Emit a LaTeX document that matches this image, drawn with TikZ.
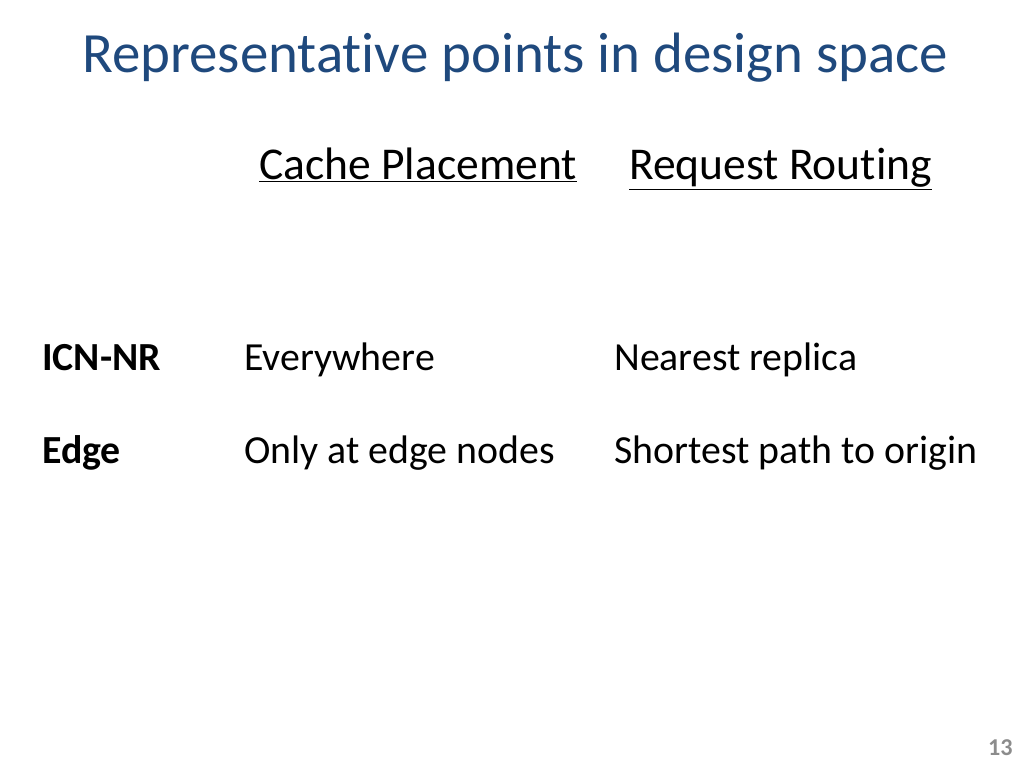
\documentclass[tikz,border=0pt]{standalone}
\usepackage{fontspec}
\setmainfont[Ligatures=NoCommon]{Carlito}
\definecolor{titleblue}{HTML}{1F497D}
\definecolor{pagegray}{HTML}{8C8C8C}
\tikzset{
  txt/.style={anchor=base west, inner sep=0pt},
  head/.style={txt, font=\fontsize{32}{34}\selectfont},
  cell/.style={txt, font=\fontsize{28}{30}\selectfont},
  rowlbl/.style={txt, font=\fontsize{28}{30}\selectfont\bfseries}
}
\begin{document}
\begin{tikzpicture}[x=0.7031pt, y=-0.7031pt]
  \useasboundingbox (0,0) rectangle (1024,768);
  % title
  \node[txt, font=\fontsize{40}{44}\selectfont, text=titleblue] (title) at (82,72) {Representative points in design space};
  % column headings
  \node[head] (place) at (259,179) {\underline{Cache Placement}};
  \node[head] (route) at (629,179) {\underline{Request Routing}};
  % rows
  \node[rowlbl] (nr) at (42,370) {ICN-NR};
  \node[cell] (nrplace) at (244,370) {Everywhere};
  \node[cell] (nrroute) at (614,370) {Nearest replica};
  \node[rowlbl] (edge) at (42,463) {Edge};
  \node[cell] (edgeplace) at (244,463) {Only at edge nodes};
  \node[cell] (edgeroute) at (614,463) {Shortest path to origin};
  % page number
  \node[txt, anchor=base east, font=\fontsize{17}{19}\selectfont\bfseries, text=pagegray] (page) at (1013,755) {13};
\end{tikzpicture}
\end{document}
